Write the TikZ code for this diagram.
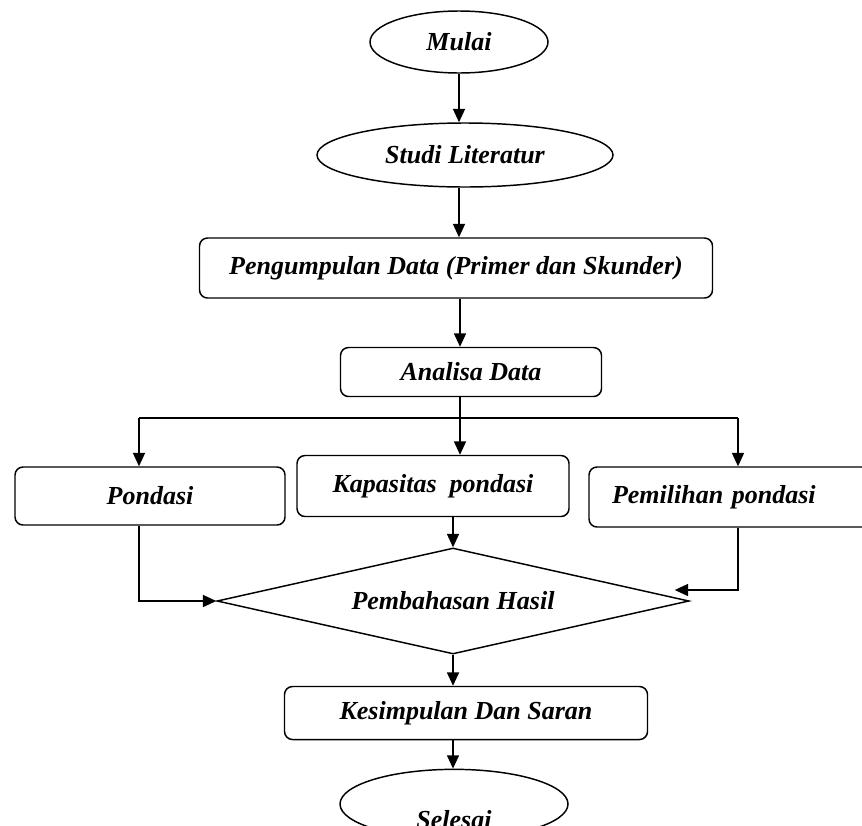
\documentclass[tikz,border=0pt]{standalone}
\usepackage{fontspec}
\setmainfont{Liberation Serif}
\usetikzlibrary{shapes.geometric,arrows.meta,calc}

\begin{document}
\begin{tikzpicture}[x=0.75pt, y=-0.75pt, line width=1.1pt,
  every node/.style={font=\fontsize{19.5}{23}\selectfont\bfseries\itshape, inner sep=0pt},
  oval/.style={draw, ellipse},
  box/.style={draw, rectangle, rounded corners=6pt},
  decision/.style={draw, diamond, aspect=4.45},
  arr/.style={-{Triangle[length=10pt,width=9pt]}}]
  \useasboundingbox (0,0) rectangle (862,825);
  % main column
  \node[oval, minimum width=133.5pt, minimum height=46.5pt] (mulai) at (459,42) {Mulai};
  \node[oval, minimum width=222pt, minimum height=48pt] (studi) at (465,155) {Studi Literatur};
  \node[box, minimum width=384.75pt, minimum height=45pt] (kumpul) at (456,268) {Pengumpulan Data (Primer dan Skunder)};
  \node[box, minimum width=195.75pt, minimum height=36.75pt] (analisa) at (471,372) {Analisa Data};
  % three branches
  \node[box, minimum width=202.5pt, minimum height=43.5pt] (pondasi) at (150,496) {Pondasi};
  \node[box, minimum width=204pt, minimum height=45.75pt] (kapasitas) at (433,486) {Kapasitas~ pondasi};
  \node[box, minimum height=45pt, text width=176.25pt, inner xsep=17.25pt, align=left] (pemilihan) at (729.5,497) {Pemilihan pondasi};
  \node[decision, minimum width=354pt, minimum height=79.5pt] (hasil) at (453,601) {Pembahasan Hasil};
  \node[box, minimum width=272.25pt, minimum height=39.75pt] (kesimpulan) at (466,713) {Kesimpulan Dan Saran};
  \node[oval, minimum width=171pt, minimum height=52pt, text height=36pt, text depth=0pt] (selesai) at (454,804) {Selesai};
  \coordinate (lk) at (139,418);
  \coordinate (mid) at (460,418);
  \coordinate (rk) at (738,418);
  % connectors
  \draw[arr] (mulai.south) -- (mulai.south |- studi.north);
  \draw[arr] (mulai.south |- studi.south) -- (mulai.south |- kumpul.north);
  \draw[arr] (mid |- kumpul.south) -- (mid |- analisa.north);
  \draw (lk) -- (rk);
  \draw[arr] (mid |- analisa.south) -- (mid |- kapasitas.north);
  \draw[arr] (lk) -- (lk |- pondasi.north);
  \draw[arr] (rk) -- (rk |- pemilihan.north);
  \draw[arr] (lk |- pondasi.south) |- (hasil.west);
  \draw[arr] (rk |- pemilihan.south) |- ($(hasil.east)+(-15,-11)$);
  \draw[arr] (hasil.north |- kapasitas.south) -- (hasil.north);
  \draw[arr] (hasil.south) -- (hasil.south |- kesimpulan.north);
  \draw[arr] (hasil.south |- kesimpulan.south) -- (hasil.south |- selesai.north);
\end{tikzpicture}
\end{document}
